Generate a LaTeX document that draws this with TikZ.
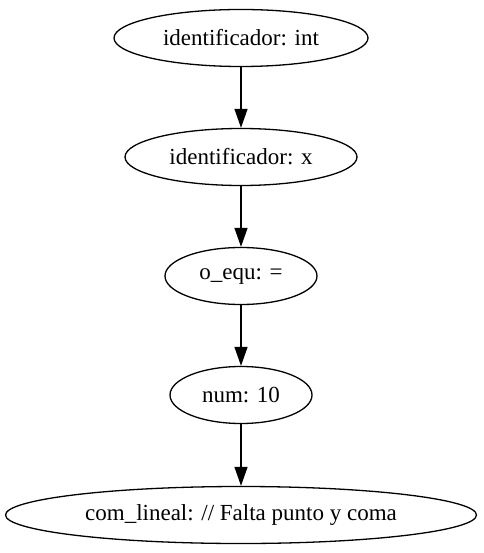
\documentclass[tikz,border=0pt]{standalone}
\usepackage{fontspec}
\setmainfont{Liberation Serif}
\usetikzlibrary{shapes.geometric,arrows.meta}
\begin{document}
\begin{tikzpicture}[x=1pt,y=1pt,
  tok/.style={draw,ellipse,line width=1.3pt,inner sep=0pt,minimum height=57pt,
    font=\fontsize{23}{26}\selectfont},
  edge/.style={line width=1.3pt,-{Triangle[length=19pt,width=13pt]}}]
  \useasboundingbox (0,0) rectangle (483,-553);
  \node[tok,minimum width=254pt] (a) at (241,-38) {identificador: int};
  \node[tok,minimum width=232pt] (b) at (241,-157) {identificador: x};
  \node[tok,minimum width=152pt] (c) at (241,-276) {o\_equ: =};
  \node[tok,minimum width=142pt] (d) at (241,-395) {num: 10};
  \node[tok,minimum width=471pt] (e) at (241,-515) {com\_lineal: // Falta punto y coma};
  \draw[edge] (a) -- (b);
  \draw[edge] (b) -- (c);
  \draw[edge] (c) -- (d);
  \draw[edge] (d) -- (e);
\end{tikzpicture}
\end{document}
